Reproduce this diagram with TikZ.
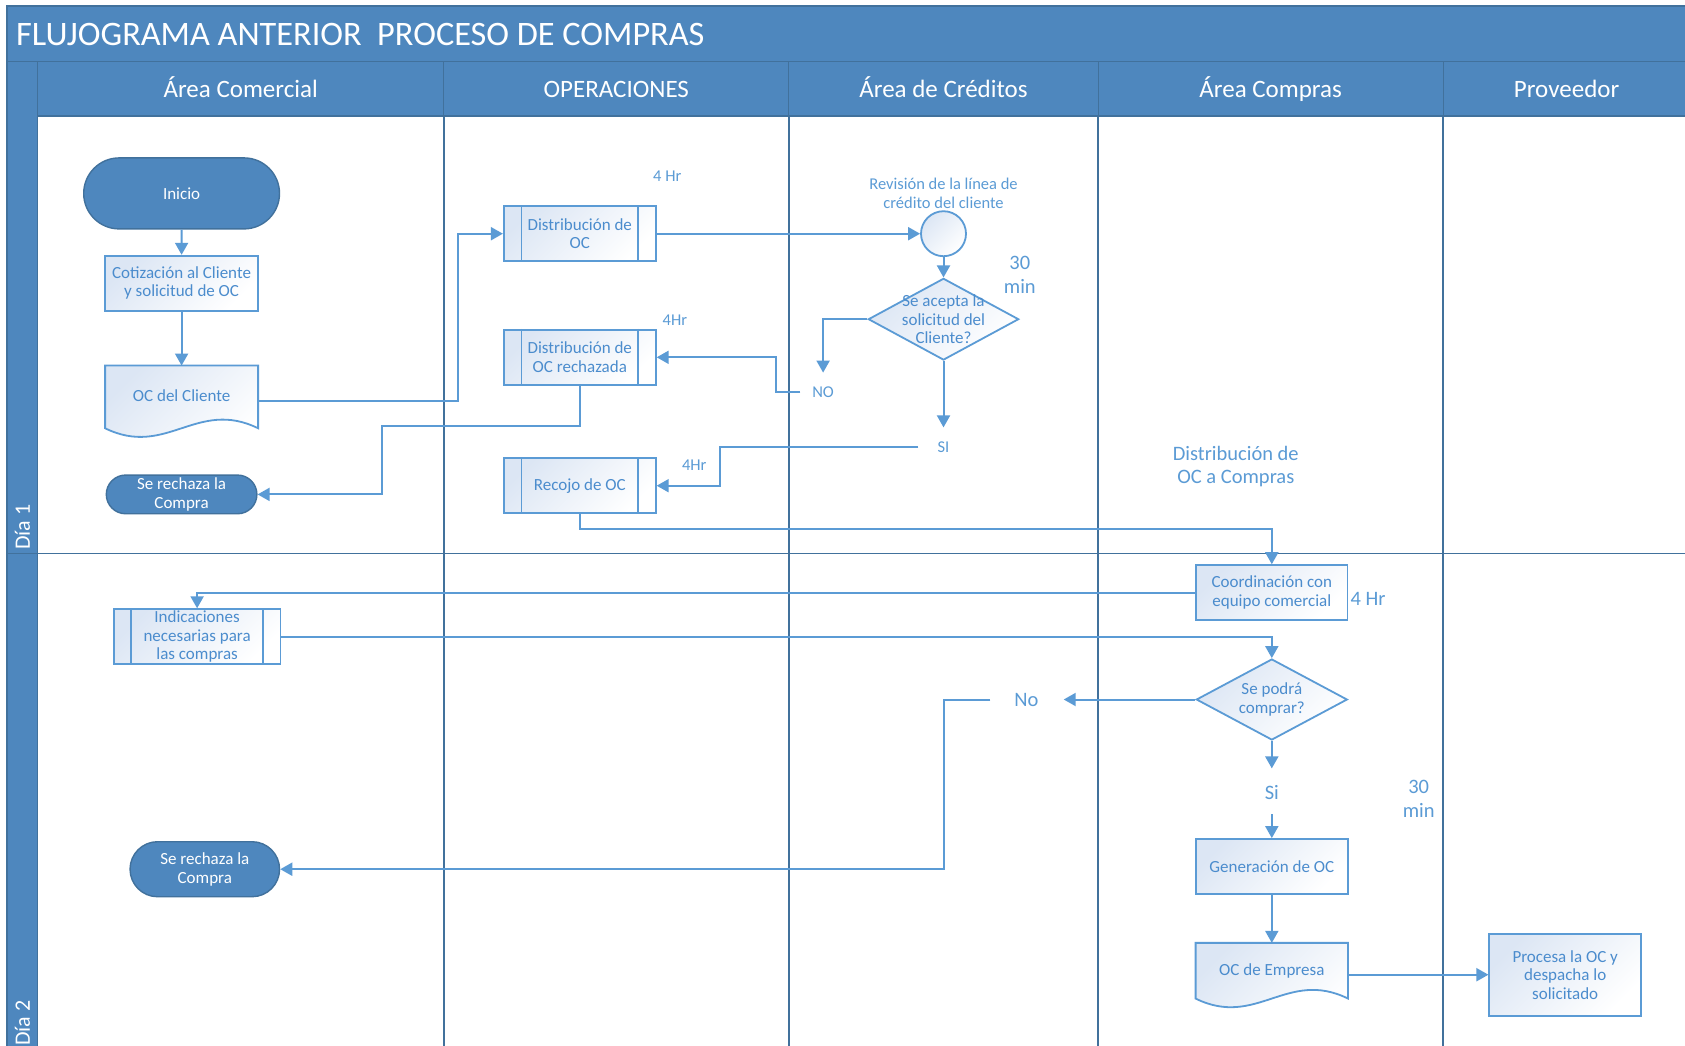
\documentclass[tikz,border=0pt]{standalone}
\usepackage{fontspec}
\setmainfont{Carlito}
\usepackage{tikz}
\usetikzlibrary{
arrows.meta,
positioning,
shapes.geometric,
shapes.misc,
calc,
backgrounds
}
\definecolor{flujohead}{RGB}{78,135,190}
\definecolor{flujolane}{RGB}{65,113,156}
\definecolor{flujoline}{RGB}{91,155,213}
\definecolor{flujotext}{RGB}{75,140,205}
\definecolor{flujofill}{RGB}{220,230,244}

\newcommand{\shapefont}{\fontsize{17}{18.5}\selectfont}
\newcommand{\tagfont}{\fontsize{16.5}{18.5}\selectfont}
\newcommand{\bigtagfont}{\fontsize{20.5}{23.5}\selectfont}

% wavy document outline round a node
\newcommand{\docframe}[1]{%
  \draw[boxline, top color=flujofill, bottom color=white, shading angle=45]
    (#1.south west) -- (#1.north west) -- (#1.north east) -- (#1.south east)
    .. controls ($(#1.south east)!0.4!(#1.south west)+(0,-30)$)
    and ($(#1.south east)!0.6!(#1.south west)+(0,30)$) .. (#1.south west) -- cycle;}

\tikzset{
  headcell/.style={fill=flujohead, draw=flujolane, line width=1.2pt},
  headtext/.style={text=white, font=\fontsize{25}{28}\selectfont, inner sep=0pt, anchor=base},
  lane/.style={draw=flujolane, line width=1.6pt},
  boxline/.style={draw=flujoline, line width=1.8pt},
  proc/.style={rectangle, boxline, top color=flujofill, bottom color=white, shading angle=45,
    minimum width=152pt, minimum height=55pt, inner sep=0pt, align=center,
    text=flujotext, font=\shapefont},
  docnode/.style={rectangle, minimum width=152pt, inner sep=0pt, align=center,
    text=flujotext, font=\shapefont},
  term/.style={rounded rectangle, fill=flujohead, draw=flujolane, line width=1.4pt,
    inner sep=1pt, align=center, text=white, font=\shapefont},
  decide/.style={diamond, boxline, top color=flujofill, bottom color=white, shading angle=45,
    inner sep=0pt},
  decidetext/.style={text=flujotext, font=\shapefont, align=center, inner sep=0pt},
  tag/.style={text=flujoline, font=\tagfont, align=center, inner sep=0pt},
  bigtag/.style={text=flujoline, font=\bigtagfont, align=center, inner sep=0pt},
  flow/.style={draw=flujoline, line width=2pt, -{Triangle[length=12pt, width=13pt]}}
}

\begin{document}
\begin{tikzpicture}[x=1pt, y=-1pt]
\useasboundingbox (0,0) rectangle (1685,1045);

% Title bar
\draw[headcell] (7,6) rectangle (1690,61.3);
\node[anchor=west, text=white, font=\fontsize{34.3}{38}\selectfont, inner sep=0pt] (title)
  at (16,34) {FLUJOGRAMA ANTERIOR\ \ PROCESO DE COMPRAS};

% Lane headers
\foreach \xa/\xb/\lbl [count=\i] in {37.6/443.8/Área Comercial, 443.8/788.8/OPERACIONES,
    788.8/1098.2/Área de Créditos, 1098.2/1443.2/Área Compras, 1443.2/1690/Proveedor} {
  \draw[headcell] (\xa,61.3) rectangle (\xb,116);
  \node[headtext] (head\i) at ({(\xa+\xb)/2},97) {\lbl};
}

% Day strip and lanes
\draw[headcell] (7,61.3) rectangle (37.6,1050);
\foreach \xl in {443.8,788.8,1098.2,1443.2}
  \draw[lane] (\xl,116) -- (\xl,1050);
\draw[lane] (7,553.4) -- (1690,553.4);
\node[text=white, font=\fontsize{22}{24}\selectfont, rotate=90, anchor=west, inner sep=0pt]
  (dia1) at (22.5,550) {Día 1};
\node[text=white, font=\fontsize{22}{24}\selectfont, rotate=90, anchor=west, inner sep=0pt]
  (dia2) at (22.5,1046) {Día 2};

% Area Comercial
\node[term, minimum width=197.8pt, minimum height=71pt] (inicio) at (181.6,193.4) {Inicio};
\node[proc, minimum width=152.6pt] (cotizacion) at (181.6,283.2) {Cotización al Cliente\\y solicitud de OC};
\node[docnode, minimum width=152.6pt, minimum height=62.3pt] (occliente) at (181.6,396.9) {\raisebox{3pt}{OC del Cliente}};
\node[term, minimum width=152.6pt, minimum height=38.7pt] (rechazo1) at (181.6,494.4) {Se rechaza la\\Compra};
\node[proc, minimum width=166.8pt] (indicaciones) at (197.1,636.7) {Indicaciones\\necesarias para\\las compras};
\node[term, minimum width=151.5pt, minimum height=55pt] (rechazo2) at (204.8,869.2) {Se rechaza la\\Compra};

% Operaciones
\node[proc] (distoc) at (579.8,233.7) {Distribución de\\OC};
\node[proc] (distrech) at (579.8,357.3) {Distribución de\\OC rechazada};
\node[proc] (recojo) at (579.8,485.7) {Recojo de OC};
\node[tag] (hr1) at (667.3,176.2) {4 Hr};
\node[tag] (hr2) at (674.9,320.2) {4Hr};
\node[tag] (hr3) at (694.2,465.3) {4Hr};
\foreach \sp in {distoc,distrech,recojo,indicaciones}
  \draw[boxline] ([xshift=18.5pt]\sp.north west) -- ([xshift=18.5pt]\sp.south west)
                 ([xshift=-18.5pt]\sp.north east) -- ([xshift=-18.5pt]\sp.south east);

% Area de Creditos
\node[tag] (revlbl) at (943.5,193.4) {Revisión de la línea de\\crédito del cliente};
\node[circle, boxline, top color=flujofill, bottom color=white, shading angle=45,
  minimum size=45pt, inner sep=0pt] (revision) at (943.5,233.7) {};
\node[decide, minimum width=150.4pt, minimum height=81.7pt] (acepta) at (943.5,319.2) {};
\node[decidetext] (aceptatxt) at (acepta) {Se acepta la\\solicitud del\\Cliente?};
\node[bigtag] (min1) at (1019.8,274.7) {30\\min};
\node[tag] (lblNO) at (823.1,392.2) {NO};
\node[tag] (lblSI) at (943.5,447) {SI};
\node[bigtag] (lblNo) at (1026.5,699.5) {No};

% Area Compras
\node[bigtag] (distcompras) at (1235.8,466.4) {Distribución de\\OC a Compras};
\node[proc, minimum width=151.5pt] (coordinacion) at (1271.8,592.6) {Coordinación con\\equipo comercial};
\node[bigtag] (hr4) at (1368,599) {4 Hr};
\node[decide, minimum width=151pt, minimum height=81pt] (podra) at (1271.8,699.5) {};
\node[decidetext] (podratxt) at (podra) {Se podrá\\comprar?};
\node[bigtag] (lblSi) at (1271.8,792.7) {Si};
\node[bigtag] (min2) at (1418.7,798.7) {30\\min};
\node[proc] (generacion) at (1271.8,866.5) {Generación de OC};
\node[docnode, minimum height=55.3pt] (ocempresa) at (1271.8,970.7) {\raisebox{3pt}{OC de Empresa}};

% Proveedor
\node[proc, minimum width=151.8pt, minimum height=82pt] (procesa) at (1565.2,974.7) {Procesa la OC y\\despacha lo\\solicitado};

% Connectors
\draw[flow] (inicio) -- (cotizacion);
\draw[flow] (cotizacion) -- (occliente);
\draw[flow] ([yshift=-4pt]occliente.east) -| ([xshift=-45pt]distoc.west) -- (distoc.west);
\draw[flow] (distoc.east) -- (revision.west);
\draw[flow] (revision) -- (acepta);
\draw[flow] (acepta.west) -| ([yshift=14pt]lblNO.north);
\draw[flow] ([xshift=-11.7pt]lblNO.west) -- ++(-24.7,0) |- (distrech.east);
\draw[flow] (acepta.south) -- ([yshift=14pt]lblSI.north);
\draw[flow] ([xshift=-19pt]lblSI.west) -- ++(-198.8,0) |- (recojo.east);
\draw[flow] (distrech.south) -- ++(0,39.8) -| ([xshift=124.7pt]rechazo1.east) -- (rechazo1.east);
\draw[flow] (recojo.south) -- ++(0,15) -| (coordinacion.north);
\draw[flow] (coordinacion.west) -| (indicaciones.north);
\draw[flow] (indicaciones.east) -| (podra.north);
\draw[flow] (podra.west) -- ([xshift=25pt]lblNo.east);
\draw[flow] ([xshift=-24pt]lblNo.west) -- ++(-46,0) |- (rechazo2.east);
\draw[flow] (podra.south) -- ([yshift=17pt]lblSi.north);
\draw[flow] ([yshift=-14pt]lblSi.south) -- (generacion.north);
\draw[flow] (generacion) -- (ocempresa);
\draw[flow] (procesa.west -| ocempresa.east) -- (procesa.west);

% Document shapes behind their text
\begin{scope}[on background layer]
\fill[white] (0,0) rectangle (1685,1045);
\docframe{occliente}
\docframe{ocempresa}
\end{scope}

\end{tikzpicture}
\end{document}
